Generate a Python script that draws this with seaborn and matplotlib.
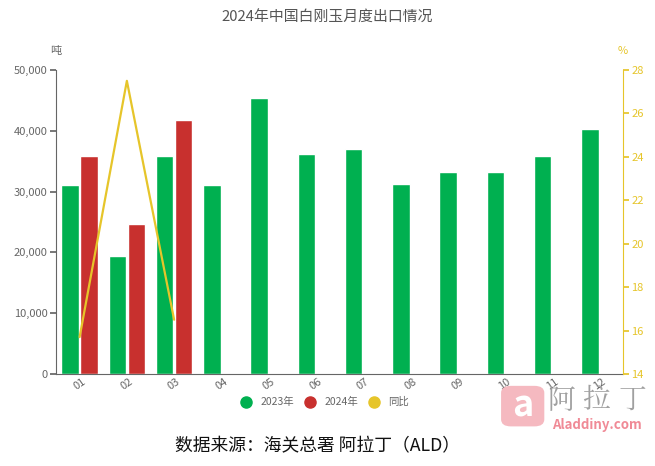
import matplotlib
matplotlib.use("Agg")
import matplotlib.pyplot as plt
import seaborn as sns
import pandas as pd
import numpy as np
from matplotlib.patches import FancyBboxPatch
from matplotlib.lines import Line2D

sns.set_theme(style="white")
plt.rcParams['font.family'] = ['Noto Sans CJK SC', 'DejaVu Sans']

months = ["01", "02", "03", "04", "05", "06", "07", "08", "09", "10", "11", "12"]
tick_labels = ["01", "02", "03", "04", "05", "06", "07", "08", "09", "10", "11", "12"]
exports_2023 = [31100, 19400, 35800, 31100, 45400, 36200, 37000, 31300, 33200, 33200, 35800, 40300]
exports_2024 = [35900, 24700, 41800]
yoy_2024 = [15.7, 27.5, 16.5]

GREEN = "#00b050"
RED = "#c8302e"
YELLOW = "#e6c52a"
GRAY = "#666666"

rows = []
for m, v in zip(months, exports_2023):
    rows.append({"month": m, "value": v, "year": "2023年"})
for m, v in zip(months[:len(exports_2024)], exports_2024):
    rows.append({"month": m, "value": v, "year": "2024年"})
df = pd.DataFrame(rows)

fig = plt.figure(figsize=(6.55, 4.66), dpi=100)

# watermark logo bottom-right (behind the chart)
logo = FancyBboxPatch((0.765, 0.085), 0.066, 0.087, boxstyle="round,pad=0.0,rounding_size=0.015",
                      transform=fig.transFigure, facecolor="#f5b9c0", edgecolor="none", zorder=0)
fig.patches.append(logo)
fig.text(0.798, 0.128, "a", ha="center", va="center", fontsize=26, color="white",
         fontstyle="italic", fontweight="bold", zorder=1)
for xc, ch in zip([0.857, 0.910, 0.965], ["阿", "拉", "丁"]):
    fig.text(xc, 0.14, ch, ha="center", va="center", fontsize=20, color="#a0a0a0",
             family=['Noto Serif CJK SC', 'Noto Sans CJK SC'], zorder=1)
fig.text(0.912, 0.088, "Aladdiny.com", ha="center", va="center", fontsize=9.5, color="#f08a96",
         fontweight="bold", zorder=1)

ax = fig.add_axes([0.0855, 0.1974, 0.8656, 0.6524])
ax.patch.set_alpha(0)

sns.barplot(data=df, x="month", y="value", hue="year", order=months,
            hue_order=["2023年", "2024年"], palette=[GREEN, RED],
            width=0.8, gap=0.07, ax=ax, legend=False, saturation=1)

ax.set_xlim(-0.5, len(months) - 0.5)
ax.set_ylim(0, 50000)
ax.set_yticks(np.arange(0, 50001, 10000))
ax.set_yticklabels([f"{int(v):,}" for v in np.arange(0, 50001, 10000)], color=GRAY, fontsize=8)
ax.set_xticks(range(len(months)))
ax.set_xticklabels(tick_labels, rotation=35, color=GRAY, fontsize=8)
ax.tick_params(axis='x', length=0, pad=2)
ax.set_xticks(np.arange(-0.5, len(months), 1), minor=True)
ax.tick_params(axis='x', which='minor', length=4, color=GRAY, direction='out')
ax.tick_params(axis='y', length=4, color=GRAY, direction='out', pad=2)
ax.set_xlabel("")
ax.set_ylabel("")
for s in ["top", "right"]:
    ax.spines[s].set_visible(False)
ax.spines["left"].set_color(GRAY)
ax.spines["bottom"].set_color(GRAY)
ax.spines["left"].set_linewidth(0.8)
ax.spines["bottom"].set_linewidth(0.8)
ax.text(0.0, 1.045, "吨", transform=ax.transAxes, ha="center", va="bottom", fontsize=8, color=GRAY)

ax2 = ax.twinx()
sns.lineplot(x=list(range(len(yoy_2024))), y=yoy_2024, ax=ax2, color=YELLOW, linewidth=1.6)
ax2.set_ylim(14, 28)
ax2.set_yticks(np.arange(14, 28.1, 2))
ax2.set_yticklabels([str(int(v)) for v in np.arange(14, 28.1, 2)], color=YELLOW, fontsize=8)
ax2.tick_params(axis='y', length=4, color=YELLOW, direction='out', pad=2)
for s in ["top", "left", "bottom"]:
    ax2.spines[s].set_visible(False)
ax2.spines["right"].set_color(YELLOW)
ax2.spines["right"].set_linewidth(0.8)
ax2.set_ylabel("")
ax2.text(1.0, 1.045, "%", transform=ax2.transAxes, ha="center", va="bottom", fontsize=8, color=YELLOW)

fig.text(0.5, 0.962, "2024年中国白刚玉月度出口情况", ha="center", va="center", fontsize=10.7, color="#555555")

handles = [Line2D([], [], marker='o', linestyle='', markersize=8, markerfacecolor=c, markeredgecolor=c)
           for c in [GREEN, RED, YELLOW]]
fig.legend(handles, ["2023年", "2024年", "同比"], loc="center", bbox_to_anchor=(0.492, 0.137),
           ncol=3, frameon=False, fontsize=7.5, handletextpad=0.4, columnspacing=0.5,
           labelcolor=GRAY)

fig.text(0.485, 0.043, "数据来源：海关总署 阿拉丁（ALD）", ha="center", va="center", fontsize=12.8, color="#111111")

fig.savefig("out.png", dpi=100)
